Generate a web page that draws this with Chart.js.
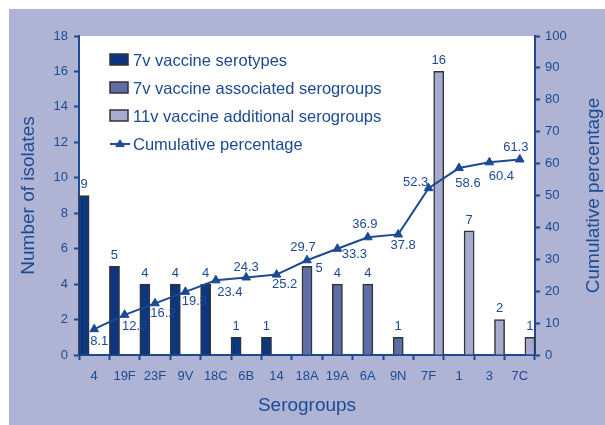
<!DOCTYPE html>
<html>
<head>
<meta charset="utf-8">
<script src="https://cdn.jsdelivr.net/npm/chart.js@4/dist/chart.umd.min.js"></script>
<style>
  html, body { margin: 0; padding: 0; background: #fff; }
  #wrap { width: 605px; height: 425px; }
</style>
</head>
<body>
<div id="wrap"><canvas id="chart" width="605" height="425"></canvas></div>
<script>
// data
const serogroups = ['4', '19F', '23F', '9V', '18C', '6B', '14', '18A', '19A', '6A', '9N', '7F', '1', '3', '7C'];
const serotypes7v = [9, 5, 4, 4, 4, 1, 1, null, null, null, null, null, null, null, null];
const associated7v = [null, null, null, null, null, null, null, 5, 4, 4, 1, null, null, null, null];
const additional11v = [null, null, null, null, null, null, null, null, null, null, null, 16, 7, 2, 1];
const cumulative = [8.1, 12.6, 16.2, 19.8, 23.4, 24.3, 25.2, 29.7, 33.3, 36.9, 37.8, 52.3, 58.6, 60.4, 61.3];
const countTicks = [0, 2, 4, 6, 8, 10, 12, 14, 16, 18];
const pctTicks = [0, 10, 20, 30, 40, 50, 60, 70, 80, 90, 100];

// label placement for the cumulative values (dx, dy from the point)
const cumLabelOffset = [
  [5, 12], [10, 12], [8, 10], [9, 10], [14, 12], [0, -10], [8, 10], [-4, -13],
  [17, 6], [-3, -13], [5, 11], [-13, -6], [9, 15], [12, 14], [-4, -12]
];

const navy = '#1b4a93';
const font = "'Liberation Sans', Arial, sans-serif";

const bgPlugin = {
  id: 'bg',
  beforeDraw(chart) {
    const ctx = chart.ctx;
    const a = chart.chartArea;
    ctx.save();
    ctx.fillStyle = '#b0b4d4';
    ctx.fillRect(9, 9, 596, 416);
    ctx.fillStyle = '#ffffff';
    ctx.fillRect(a.left, a.top, a.right - a.left, a.bottom - a.top);
    ctx.restore();
  }
};

const labelPlugin = {
  id: 'labels',
  afterDraw(chart) {
    const ctx = chart.ctx;
    const a = chart.chartArea;
    ctx.save();
    ctx.fillStyle = navy;
    ctx.textAlign = 'center';
    ctx.textBaseline = 'middle';
    ctx.font = '13px ' + font;

    // bar values
    [0, 1, 2].forEach(di => {
      const ds = chart.data.datasets[di];
      chart.getDatasetMeta(di).data.forEach((el, i) => {
        const v = ds.data[i];
        if (v == null) return;
        if (serogroups[i] === '18A') {
          ctx.fillText(v, el.x + 12, el.y + 2);
        } else {
          ctx.fillText(v, el.x, el.y - 11);
        }
      });
    });

    // cumulative values
    chart.getDatasetMeta(3).data.forEach((el, i) => {
      const off = cumLabelOffset[i];
      ctx.fillText(cumulative[i].toFixed(1), el.x + off[0], el.y + off[1]);
    });

    // axis titles
    ctx.font = '19px ' + font;
    ctx.fillText('Serogroups', (a.left + a.right) / 2, 406);
    const midY = (a.top + a.bottom) / 2;
    ctx.save();
    ctx.translate(29, midY);
    ctx.rotate(-Math.PI / 2);
    ctx.fillText('Number of isolates', 0, 0);
    ctx.restore();
    ctx.save();
    ctx.translate(594, midY);
    ctx.rotate(-Math.PI / 2);
    ctx.fillText('Cumulative percentage', 0, 0);
    ctx.restore();

    // legend
    const items = [
      { text: '7v vaccine serotypes', color: chart.data.datasets[0].backgroundColor },
      { text: '7v vaccine associated serogroups', color: chart.data.datasets[1].backgroundColor },
      { text: '11v vaccine additional serogroups', color: chart.data.datasets[2].backgroundColor },
      { text: 'Cumulative percentage', line: true }
    ];
    ctx.font = '16.5px ' + font;
    ctx.textAlign = 'left';
    items.forEach((it, k) => {
      const y = 60 + k * 28;
      if (it.line) {
        ctx.strokeStyle = navy;
        ctx.lineWidth = 2;
        ctx.beginPath();
        ctx.moveTo(110, y);
        ctx.lineTo(130, y);
        ctx.stroke();
        ctx.fillStyle = navy;
        ctx.beginPath();
        ctx.moveTo(120, y - 5);
        ctx.lineTo(125, y + 3);
        ctx.lineTo(115, y + 3);
        ctx.closePath();
        ctx.fill();
      } else {
        ctx.fillStyle = it.color;
        ctx.fillRect(110, y - 6, 18, 11);
        ctx.strokeStyle = '#333';
        ctx.lineWidth = 1.5;
        ctx.strokeRect(110, y - 6, 18, 11);
      }
      ctx.fillStyle = navy;
      ctx.fillText(it.text, 133, y + 1);
    });
    ctx.restore();
  }
};

function axisStyle(extra) {
  return Object.assign({
    grid: { drawOnChartArea: false, drawTicks: true, tickLength: 5, tickColor: navy, tickWidth: 2 },
    border: { color: navy, width: 2 },
    ticks: { color: navy, font: { family: font, size: 13 } }
  }, extra);
}

const barBase = { borderColor: '#333', borderWidth: 1.5, categoryPercentage: 1, barPercentage: 1, yAxisID: 'y', order: 2 };

new Chart(document.getElementById('chart'), {
  type: 'bar',
  data: {
    labels: serogroups,
    datasets: [
      Object.assign({ label: '7v vaccine serotypes', data: serotypes7v, backgroundColor: '#0d3681' }, barBase),
      Object.assign({ label: '7v vaccine associated serogroups', data: associated7v, backgroundColor: '#5f6da5' }, barBase),
      Object.assign({ label: '11v vaccine additional serogroups', data: additional11v, backgroundColor: '#a8abd0' }, barBase),
      {
        type: 'line', label: 'Cumulative percentage', data: cumulative, yAxisID: 'y1', order: 1,
        borderColor: navy, borderWidth: 2, backgroundColor: navy,
        pointStyle: 'triangle', pointRadius: 5, pointBorderWidth: 1, pointBackgroundColor: navy,
        tension: 0
      }
    ]
  },
  options: {
    responsive: false,
    animation: false,
    layout: { padding: { top: 36, left: 0, right: 0, bottom: 0 } },
    plugins: { legend: { display: false }, tooltip: { enabled: false } },
    scales: {
      x: axisStyle({
        offset: true,
        ticks: { color: navy, font: { family: font, size: 13 }, padding: 9, maxRotation: 0, autoSkip: false },
        afterFit(s) { s.height = 70; }
      }),
      y: axisStyle({
        position: 'left', min: 0, max: 18,
        afterBuildTicks(s) { s.ticks = countTicks.map(v => ({ value: v })); },
        ticks: { color: navy, font: { family: font, size: 13 }, padding: 6 },
        afterFit(s) { s.width = 79; }
      }),
      y1: axisStyle({
        position: 'right', min: 0, max: 100,
        afterBuildTicks(s) { s.ticks = pctTicks.map(v => ({ value: v })); },
        ticks: { color: navy, font: { family: font, size: 13 }, padding: 5 },
        afterFit(s) { s.width = 70; }
      })
    }
  },
  plugins: [bgPlugin, labelPlugin]
});
</script>
</body>
</html>
